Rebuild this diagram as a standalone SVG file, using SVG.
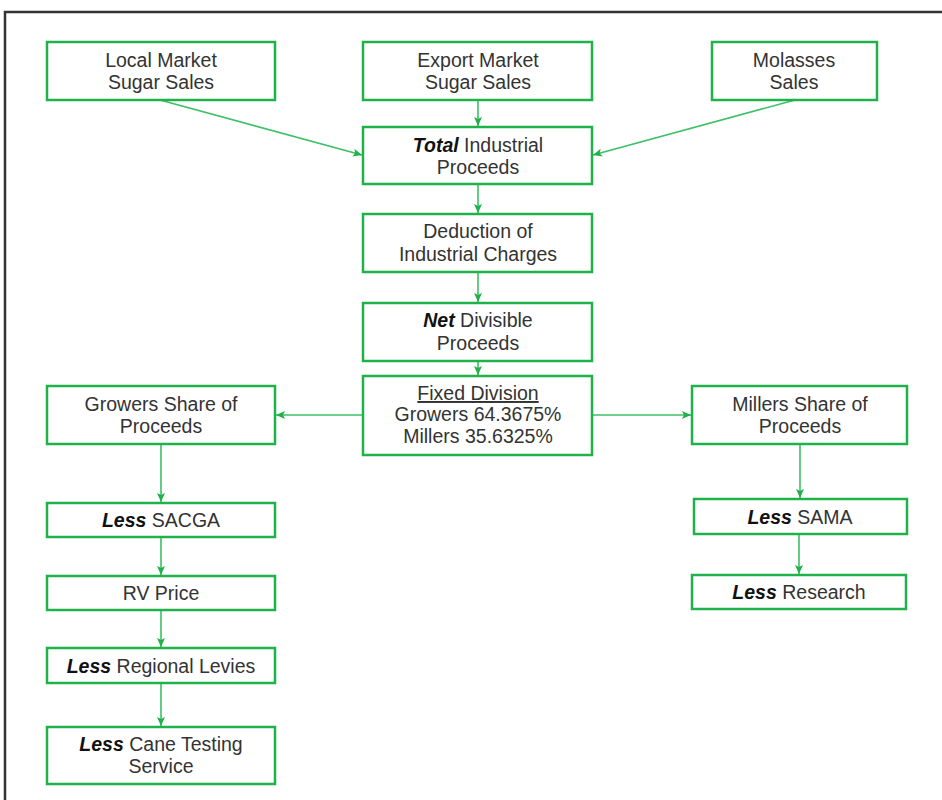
<svg xmlns="http://www.w3.org/2000/svg" width="942" height="800" viewBox="0 0 942 800">
<style>
.box{fill:#fff;stroke:#1fb24a;stroke-width:2.5}
.t{font-family:"Liberation Sans",Arial,sans-serif;font-size:19.5px;fill:#333;text-anchor:middle}
.b{font-weight:bold;font-style:italic;fill:#111}
.c{stroke:#3cc065;stroke-width:1.6;fill:none;marker-end:url(#ah)}
</style>
<defs>
<marker id="ah" markerWidth="10" markerHeight="10" refX="9" refY="5" orient="auto" markerUnits="userSpaceOnUse">
<path d="M0,1 L9,5 L0,9 L2,5 Z" fill="#1fb24a"/>
</marker>
</defs>
<rect x="0" y="0" width="942" height="800" fill="#fff"/>
<path d="M5,800 V12 H942" fill="none" stroke="#333" stroke-width="2.5"/>
<g id="connectors">
<line class="c" x1="478" y1="100" x2="478" y2="126"/>
<line class="c" x1="160" y1="100" x2="362" y2="155"/>
<line class="c" x1="795" y1="100" x2="593" y2="155"/>
<line class="c" x1="478" y1="184" x2="478" y2="213"/>
<line class="c" x1="478" y1="272" x2="478" y2="302"/>
<line class="c" x1="478" y1="361" x2="478" y2="375"/>
<line class="c" x1="363" y1="415" x2="276" y2="415"/>
<line class="c" x1="592" y1="415" x2="691" y2="415"/>
<line class="c" x1="161" y1="444" x2="161" y2="502"/>
<line class="c" x1="161" y1="537" x2="161" y2="575"/>
<line class="c" x1="161" y1="610" x2="161" y2="647"/>
<line class="c" x1="161" y1="683" x2="161" y2="726"/>
<line class="c" x1="800" y1="444" x2="800" y2="498"/>
<line class="c" x1="799" y1="534" x2="799" y2="574"/>
</g>
<g id="local"><rect class="box" x="47" y="42" width="228" height="58"/><text class="t" x="161" y="67">Local Market</text><text class="t" x="161" y="89">Sugar Sales</text></g>
<g id="export"><rect class="box" x="363" y="42" width="229" height="58"/><text class="t" x="478" y="67">Export Market</text><text class="t" x="478" y="89">Sugar Sales</text></g>
<g id="molasses"><rect class="box" x="712" y="42" width="165" height="58"/><text class="t" x="794" y="67">Molasses</text><text class="t" x="794" y="89">Sales</text></g>
<g id="total"><rect class="box" x="363" y="127" width="229" height="57"/><text class="t" x="478" y="152"><tspan class="b">Total</tspan> Industrial</text><text class="t" x="478" y="174">Proceeds</text></g>
<g id="deduction"><rect class="box" x="363" y="214" width="229" height="58"/><text class="t" x="478" y="238">Deduction of</text><text class="t" x="478" y="261">Industrial Charges</text></g>
<g id="net"><rect class="box" x="363" y="303" width="229" height="58"/><text class="t" x="478" y="327"><tspan class="b">Net</tspan> Divisible</text><text class="t" x="478" y="350">Proceeds</text></g>
<g id="fixed"><rect class="box" x="363" y="376" width="229" height="79"/><text class="t" x="478" y="400" text-decoration="underline">Fixed Division</text><text class="t" x="478" y="421">Growers 64.3675%</text><text class="t" x="478" y="443">Millers 35.6325%</text></g>
<g id="growers"><rect class="box" x="47" y="386" width="228" height="58"/><text class="t" x="161" y="411">Growers Share of</text><text class="t" x="161" y="433">Proceeds</text></g>
<g id="sacga"><rect class="box" x="47" y="503" width="228" height="34"/><text class="t" x="161" y="527"><tspan class="b">Less</tspan> SACGA</text></g>
<g id="rv"><rect class="box" x="47" y="576" width="228" height="34"/><text class="t" x="161" y="600">RV Price</text></g>
<g id="regional"><rect class="box" x="47" y="648" width="228" height="35"/><text class="t" x="161" y="673"><tspan class="b">Less</tspan> Regional Levies</text></g>
<g id="cane"><rect class="box" x="47" y="727" width="228" height="57"/><text class="t" x="161" y="751"><tspan class="b">Less</tspan> Cane Testing</text><text class="t" x="161" y="773">Service</text></g>
<g id="millers"><rect class="box" x="692" y="386" width="215" height="58"/><text class="t" x="800" y="411">Millers Share of</text><text class="t" x="800" y="433">Proceeds</text></g>
<g id="sama"><rect class="box" x="694" y="499" width="213" height="35"/><text class="t" x="800" y="524"><tspan class="b">Less</tspan> SAMA</text></g>
<g id="research"><rect class="box" x="692" y="575" width="214" height="34"/><text class="t" x="799" y="599"><tspan class="b">Less</tspan> Research</text></g>
</svg>
